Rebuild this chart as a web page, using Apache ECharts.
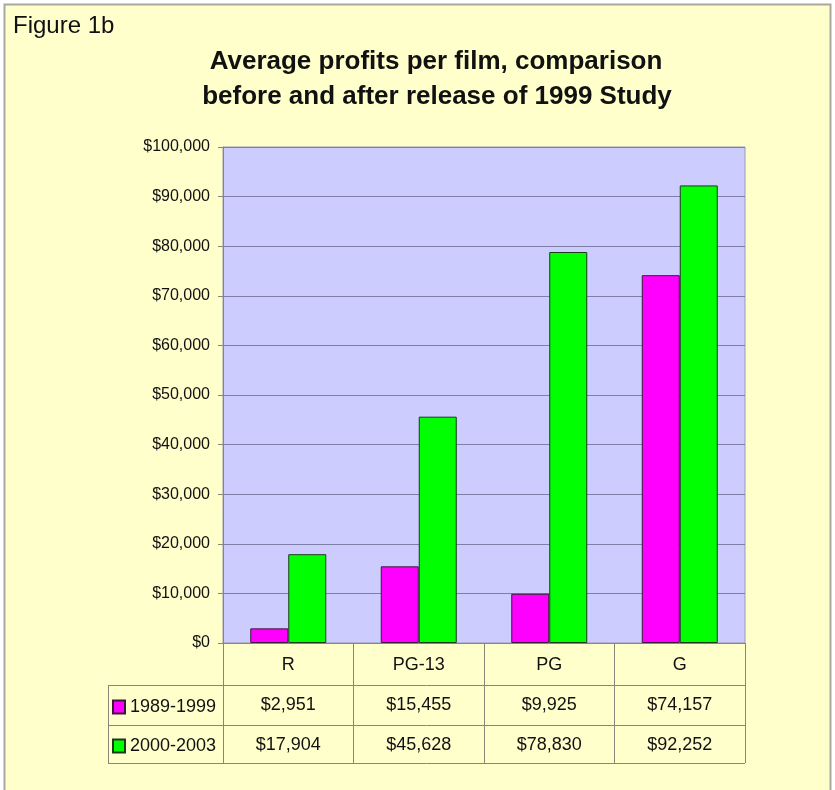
<!DOCTYPE html>
<html>
<head>
<meta charset="utf-8">
<script src="https://cdn.jsdelivr.net/npm/echarts@6/dist/echarts.min.js"></script>
<style>
  html, body { margin: 0; padding: 0; background: #ffffff; }
  #chart { width: 835px; height: 790px; }
</style>
</head>
<body>
<div id="chart"></div>
<script>
// Film ratings and average profit per film for each period
var categories = ['R', 'PG-13', 'PG', 'G'];
var seriesNames = ['1989-1999', '2000-2003'];
var profits1989 = [2951, 15455, 9925, 74157];
var profits2000 = [17904, 45628, 78830, 92252];
var yTicks = { min: 0, max: 100000, interval: 10000 };

var FONT = '"Liberation Sans", Arial, sans-serif';

function money(v) {
  return '$' + Number(v).toLocaleString('en-US');
}

var chart = echarts.init(document.getElementById('chart'), null, { renderer: 'canvas' });

// Plot box geometry
var gridLeft = 223, gridTop = 147, gridWidth = 522, gridHeight = 496;
var gridBottom = gridTop + gridHeight;
var tableLeft = 108, rowH1 = 42, rowH2 = 40, rowH3 = 38;
var row1Top = gridBottom + rowH1;
var row2Top = row1Top + rowH2;
var tableBottom = row2Top + rowH3;
var gridRight = gridLeft + gridWidth;
var lineColor = '#86867a';

var valueAxisLabel = { show: true, fontSize: 18, fontFamily: FONT, color: '#111', interval: 0, margin: 11 };

var option = {
  backgroundColor: '#ffffff',
  animation: false,
  grid: {
    left: gridLeft, top: gridTop, width: gridWidth, height: gridHeight,
    show: true, backgroundColor: '#ccccff', borderColor: '#9a9ab0', borderWidth: 1,
    containLabel: false
  },
  legend: {
    orient: 'vertical',
    left: 107, top: row1Top + 8,
    itemWidth: 12, itemHeight: 13, itemGap: 21,
    icon: 'rect',
    textStyle: { fontSize: 18, fontFamily: FONT, color: '#111' },
    data: seriesNames
  },
  xAxis: [
    {
      type: 'category', data: categories, position: 'bottom',
      axisLine: { show: true, lineStyle: { color: lineColor, width: 1 } },
      axisTick: { show: true, interval: 0, length: rowH1 + rowH2 + rowH3, lineStyle: { color: lineColor } },
      axisLabel: { fontSize: 18, fontFamily: FONT, color: '#111', margin: 13, interval: 0 },
      splitLine: { show: false }
    },
    {
      type: 'category', data: profits1989.map(money), position: 'bottom', offset: rowH1,
      axisLine: { show: false }, axisTick: { show: false },
      axisLabel: valueAxisLabel
    },
    {
      type: 'category', data: profits2000.map(money), position: 'bottom', offset: rowH1 + rowH2,
      axisLine: { show: false }, axisTick: { show: false },
      axisLabel: valueAxisLabel
    }
  ],
  yAxis: {
    type: 'value', min: yTicks.min, max: yTicks.max, interval: yTicks.interval,
    axisLine: { show: true, lineStyle: { color: lineColor, width: 1 } },
    axisTick: { show: true, length: 5, lineStyle: { color: lineColor } },
    axisLabel: { fontSize: 16, fontFamily: FONT, color: '#111', margin: 13, formatter: money },
    splitLine: { show: true, lineStyle: { color: '#7f7fa6', width: 1 } }
  },
  series: [
    {
      name: seriesNames[0], type: 'bar', data: profits1989, xAxisIndex: 0,
      barWidth: 38, barGap: '0%',
      itemStyle: { color: '#ff00ff', borderColor: '#3a1a3a', borderWidth: 1 }
    },
    {
      name: seriesNames[1], type: 'bar', data: profits2000, xAxisIndex: 0,
      barWidth: 38, barGap: '0%',
      itemStyle: { color: '#00ff00', borderColor: '#1a3a1a', borderWidth: 1 }
    }
  ],
  graphic: {
    elements: [
      // outer chart frame
      {
        type: 'rect', z: -100, silent: true,
        shape: { x: 4.5, y: 4.5, width: 826, height: 800 },
        style: { fill: '#ffffcc', stroke: '#a8a8a0', lineWidth: 2 }
      },
      {
        type: 'text', left: 13, top: 14,
        style: { text: 'Figure 1b', font: '24px ' + FONT, fill: '#111' }
      },
      {
        type: 'text', x: 436, y: 62,
        style: { text: 'Average profits per film, comparison', font: 'bold 26px ' + FONT, fill: '#111',
                 textAlign: 'center', textVerticalAlign: 'middle' }
      },
      {
        type: 'text', x: 437, y: 97,
        style: { text: 'before and after release of 1999 Study', font: 'bold 26px ' + FONT, fill: '#111',
                 textAlign: 'center', textVerticalAlign: 'middle' }
      },
      // data table rules
      { type: 'line', silent: true, shape: { x1: tableLeft, y1: row1Top + 0.5, x2: gridRight, y2: row1Top + 0.5 }, style: { stroke: lineColor, lineWidth: 1 } },
      { type: 'line', silent: true, shape: { x1: tableLeft, y1: row2Top + 0.5, x2: gridRight, y2: row2Top + 0.5 }, style: { stroke: lineColor, lineWidth: 1 } },
      { type: 'line', silent: true, shape: { x1: tableLeft, y1: tableBottom + 0.5, x2: gridRight, y2: tableBottom + 0.5 }, style: { stroke: lineColor, lineWidth: 1 } },
      { type: 'line', silent: true, shape: { x1: tableLeft + 0.5, y1: row1Top, x2: tableLeft + 0.5, y2: tableBottom }, style: { stroke: lineColor, lineWidth: 1 } }
    ]
  }
};

chart.setOption(option);
</script>
</body>
</html>
